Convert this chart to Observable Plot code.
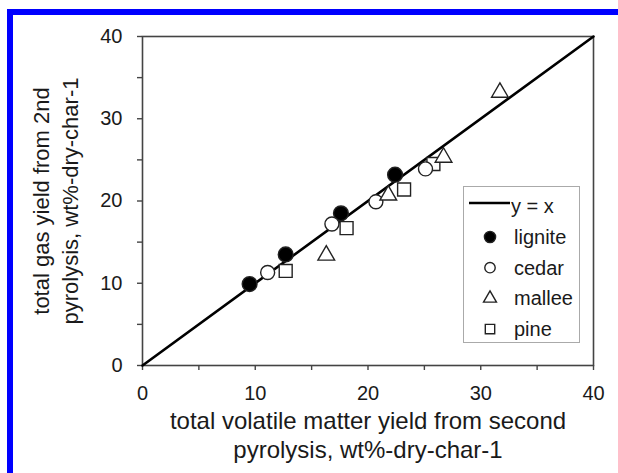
<!DOCTYPE html>
<html><head><meta charset="utf-8">
<script src="https://cdn.jsdelivr.net/npm/d3@7"></script>
<script src="https://cdn.jsdelivr.net/npm/@observablehq/plot@0.6"></script>
<style>
body{margin:0;background:#fff;}
#wrap{position:relative;width:618px;height:473px;overflow:hidden;font-family:"Liberation Sans",Arial,sans-serif;background:#fff;}
#border{position:absolute;left:7px;top:9px;right:-10px;bottom:-10px;border-left:6px solid #0000ff;border-top:6px solid #0000ff;pointer-events:none;}
#legend{position:absolute;left:463px;top:186px;}
#chart svg{display:block;}
</style></head><body>
<div id="wrap"><div id="chart"></div><div id="legend"></div><div id="border"></div></div>
<script>
// ---- data ----
const seriesNames = ["lignite", "cedar", "mallee", "pine"];
const seriesSymbols = ["circle", "circle", "triangle", "square"];
const seriesFills = ["#000", "#fff", "#fff", "#fff"];
const seriesSizes = [7.4, 7, 6.2, 7.3];

const ligniteX = [9.5, 12.7, 17.6, 22.4];
const ligniteY = [9.9, 13.5, 18.5, 23.2];
const cedarX = [11.1, 16.8, 20.7, 25.1];
const cedarY = [11.3, 17.2, 19.9, 23.9];
const malleeX = [16.3, 21.8, 26.7, 31.7];
const malleeY = [13.4, 20.7, 25.3, 33.2];
const pineX = [12.7, 18.1, 23.2, 25.8];
const pineY = [11.5, 16.7, 21.4, 24.5];

const identityLine = [0, 40];
const tickValues = [0, 5, 10, 15, 20, 25, 30, 35, 40];
const xTitle = "total volatile matter yield from second\npyrolysis, wt%-dry-char-1";
const yTitle = "total gas yield from 2nd\npyrolysis, wt%-dry-char-1";
const lineLabel = "y = x";

// ---- build table ----
const seriesData = [[ligniteX, ligniteY], [cedarX, cedarY], [malleeX, malleeY], [pineX, pineY]];
const points = [];
seriesData.forEach(([xs, ys], i) => xs.forEach((x, j) => points.push({
  series: seriesNames[i], x, y: ys[j], fill: seriesFills[i], r: seriesSizes[i]
})));

const fmt = d => (d % 10 === 0 ? String(d) : "");

const plot = Plot.plot({
  width: 618, height: 473,
  marginLeft: 142, marginRight: 25, marginTop: 36, marginBottom: 108,
  x: {domain: [0, 40]},
  y: {domain: [0, 40]},
  color: {type: "identity"},
  r: {type: "identity"},
  symbol: {domain: seriesNames, range: seriesSymbols},
  style: {fontFamily: "'Liberation Sans', Arial, sans-serif", fontSize: "20px", color: "#1a1a1a", background: "transparent"},
  marks: [
    Plot.frame({stroke: "#444", strokeWidth: 1.6}),
    Plot.axisX({ticks: tickValues, tickFormat: fmt, tickSize: 5, tickPadding: 15, label: null, fontSize: 20, stroke: "#444", strokeWidth: 1.4}),
    Plot.axisY({ticks: tickValues, tickFormat: fmt, tickSize: 5, tickPadding: 15, label: null, fontSize: 20, stroke: "#444", strokeWidth: 1.4}),
    Plot.line(identityLine, {x: d => d, y: d => d, stroke: "#000", strokeWidth: 2.6}),
    Plot.dot(points, {x: "x", y: "y", symbol: "series", fill: "fill", r: "r", stroke: "#222", strokeWidth: 1.4}),
    Plot.text([xTitle], {text: d => d, frameAnchor: "bottom", textAnchor: "middle", dy: 69, lineAnchor: "middle", lineHeight: 1.18, fontSize: 24, fill: "#1a1a1a"}),
    Plot.text([yTitle], {text: d => d, frameAnchor: "left", textAnchor: "middle", dx: -88, rotate: -90, lineAnchor: "middle", lineHeight: 1.28, fontSize: 22, fill: "#1a1a1a"})
  ]
});
document.getElementById("chart").appendChild(plot);

// ---- legend (inset box) ----
const lg = d3.select("#legend").append("svg").attr("width", 117).attr("height", 158)
  .style("font-family", "'Liberation Sans', Arial, sans-serif");
lg.append("rect").attr("x", 0.5).attr("y", 0.5).attr("width", 116).attr("height", 156)
  .attr("fill", "#fff").attr("stroke", "#aaa").attr("stroke-width", 1);
lg.append("line").attr("x1", 6).attr("x2", 47).attr("y1", 17).attr("y2", 17)
  .attr("stroke", "#000").attr("stroke-width", 2.6);
lg.append("text").attr("x", 48).attr("y", 20).attr("dy", "0.35em").attr("font-size", 20)
  .attr("fill", "#1a1a1a").text(lineLabel);
const symType = {circle: d3.symbolCircle, triangle: d3.symbolTriangle, square: d3.symbolSquare};
const legendSizes = [5.6, 5.2, 4.8, 5.3];
seriesNames.forEach((name, i) => {
  const cy = 51 + i * 30.7;
  lg.append("path")
    .attr("transform", `translate(27,${cy})`)
    .attr("d", d3.symbol(symType[seriesSymbols[i]], Math.PI * legendSizes[i] ** 2)())
    .attr("fill", seriesFills[i]).attr("stroke", "#222").attr("stroke-width", 1.4);
  lg.append("text").attr("x", 51).attr("y", cy).attr("dy", "0.35em").attr("font-size", 20)
    .attr("fill", "#1a1a1a").text(name);
});
</script>
</body></html>
